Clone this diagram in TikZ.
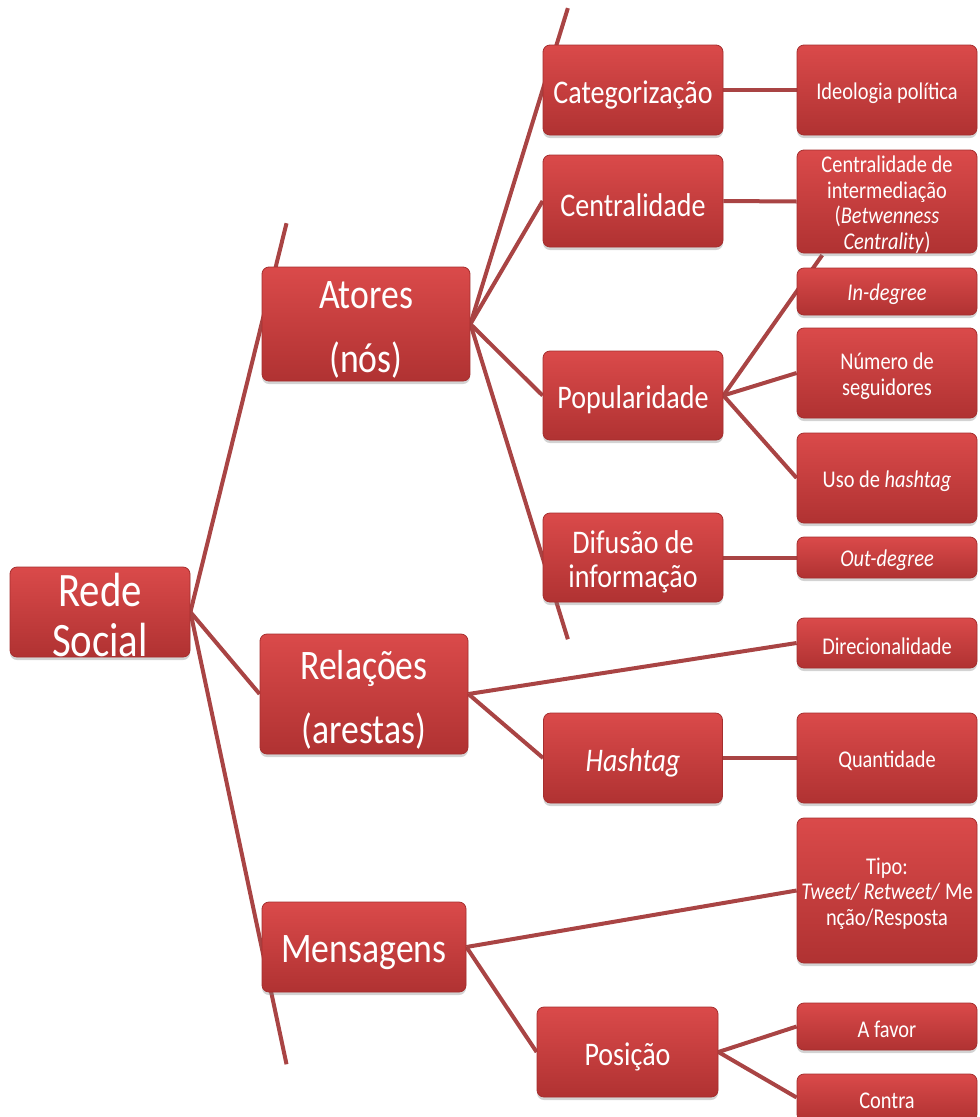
\documentclass[tikz,border=0pt]{standalone}
\usepackage{fontspec}
\setmainfont[FakeStretch=0.85]{Carlito}
\usetikzlibrary{calc,shadows,backgrounds}
\definecolor{boxtop}{HTML}{DA4A4A}
\definecolor{boxbot}{HTML}{B03232}
\definecolor{boxedge}{HTML}{A52E2E}
\definecolor{connc}{HTML}{A94444}
\tikzset{
  rbox/.style={rounded corners=7pt, top color=boxtop, bottom color=boxbot, draw=boxedge, line width=0.8pt,
    inner sep=0pt,
    drop shadow={opacity=0.35, shadow xshift=0pt, shadow yshift=-3pt}},
  lbltext/.style={text=white, align=center, inner sep=0pt},
  lvzero/.style={rbox, label={[lbltext, font=\fontsize{48}{50}\selectfont, yshift=-3pt]center:{#1}}},
  lvone/.style={rbox, label={[lbltext, font=\fontsize{42}{64}\selectfont, yshift=-6pt]center:{#1}}},
  lvtwo/.style={rbox, label={[lbltext, font=\fontsize{33}{34}\selectfont, yshift=-4.5pt]center:{#1}}},
  lvthree/.style={rbox, label={[lbltext, font=\fontsize{24}{25.5}\selectfont, yshift=-3pt]center:{#1}}},
  connector/.style={draw=connc, line width=4pt}
}
\begin{document}
\begin{tikzpicture}[x=1pt, y=-1pt]
\useasboundingbox (0,0) rectangle (980,1117);
% level 0
\node[lvzero={Rede\\Social}, minimum width=180, minimum height=90] (rede) at (100,612) {};
% level 1
\node[lvone={Atores\\(nós)}, minimum width=208, minimum height=114] (atores) at (366,324) {};
\node[lvone={Relações\\(arestas)}, minimum width=208, minimum height=120] (relacoes) at (364,694) {};
\node[lvone={Mensagens}, minimum width=204, minimum height=90] (mensagens) at (364,947) {};
% level 2
\node[lvtwo={Categorização}, minimum width=180, minimum height=90] (categ) at (633,90) {};
\node[lvtwo={Centralidade}, minimum width=180, minimum height=92] (central) at (633,201) {};
\node[lvtwo={Popularidade}, minimum width=180, minimum height=89] (popular) at (633,395.5) {};
\node[lvtwo={Difusão de\\informação}, minimum width=180, minimum height=89] (difusao) at (633,557.5) {};
\node[lvtwo={\textit{Hashtag}}, minimum width=179, minimum height=90] (hashtag) at (633,758) {};
\node[lvtwo={Posição}, minimum width=181, minimum height=90] (posicao) at (627.5,1052) {};
% level 3
\node[lvthree={Ideologia política}, minimum width=180, minimum height=90] (ideol) at (887,90) {};
\node[lvthree={Centralidade de\\intermediação\\(\textit{Betwenness}\\\textit{Centrality})}, minimum width=180, minimum height=103] (cinter) at (887,201.5) {};
\node[lvthree={\textit{In-degree}}, minimum width=180, minimum height=47] (indeg) at (887,291.5) {};
\node[lvthree={Número de\\seguidores}, minimum width=180, minimum height=90] (numero) at (887,373) {};
\node[lvthree={Uso de \textit{hashtag}}, minimum width=180, minimum height=90] (uso) at (887,478) {};
\node[lvthree={\textit{Out-degree}}, minimum width=180, minimum height=41] (outdeg) at (887,557.5) {};
\node[lvthree={Direcionalidade}, minimum width=180, minimum height=50] (direc) at (887,643) {};
\node[lvthree={Quantidade}, minimum width=180, minimum height=90] (quant) at (887,758) {};
\node[lvthree={Tipo:\\\textit{Tweet/ Retweet/} Me\\nção/Resposta}, minimum width=180, minimum height=145] (tipo) at (887,890.5) {};
\node[lvthree={A favor}, minimum width=180, minimum height=47] (afavor) at (887,1026.5) {};
\node[lvthree={Contra}, minimum width=180, minimum height=47] (contra) at (887,1097.5) {};
% connectors
\begin{scope}[on background layer]
\draw[connector] (rede.east) -- ($(rede.east)!1.35!(atores.west)$);
\draw[connector] (rede.east) -- (relacoes.west);
\draw[connector] (rede.east) -- ($(rede.east)!1.35!(mensagens.west)$);
\draw[connector] (atores.east) -- ($(atores.east)!1.35!(categ.west)$);
\draw[connector] (atores.east) -- (central.west);
\draw[connector] (atores.east) -- (popular.west);
\draw[connector] (atores.east) -- ($(atores.east)!1.35!(difusao.west)$);
\draw[connector] (categ.east) -- (ideol.west);
\draw[connector] (central.east) -- (cinter.west);
\draw[connector] (popular.east) -- ($(popular.east)!1.35!(indeg.west)$);
\draw[connector] (popular.east) -- (numero.west);
\draw[connector] (popular.east) -- (uso.west);
\draw[connector] (difusao.east) -- (outdeg.west);
\draw[connector] (relacoes.east) -- (direc.west);
\draw[connector] (relacoes.east) -- (hashtag.west);
\draw[connector] (hashtag.east) -- (quant.west);
\draw[connector] (mensagens.east) -- (tipo.west);
\draw[connector] (mensagens.east) -- (posicao.west);
\draw[connector] (posicao.east) -- (afavor.west);
\draw[connector] (posicao.east) -- (contra.west);
\end{scope}
\end{tikzpicture}
\end{document}
